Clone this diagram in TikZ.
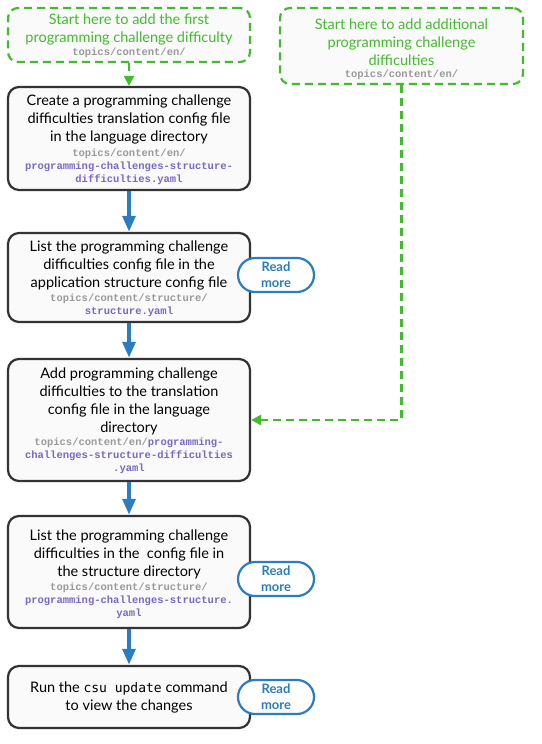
\documentclass[tikz,border=0pt]{standalone}
\usepackage{fontspec}
\setmainfont{Lato}
\newfontfamily\cmono{Liberation Mono}
\newfontfamily\dmono{DejaVu Sans Mono}
\usetikzlibrary{arrows.meta}
\definecolor{boxfill}{HTML}{FAFAFA}
\definecolor{boxline}{HTML}{333333}
\definecolor{greenc}{HTML}{44BB2E}
\definecolor{bluec}{HTML}{2A7DC0}
\definecolor{grayc}{HTML}{9A9A9A}
\definecolor{purplec}{HTML}{7B68C4}
\newcommand{\gp}[1]{\textcolor{grayc}{#1}}
\newcommand{\pp}[1]{\textcolor{purplec}{#1}}
\begin{document}
\begin{tikzpicture}[x=1pt,y=-1pt,
  stepbox/.style={draw=boxline,line width=2.2pt,fill=boxfill,rounded corners=11pt,inner sep=0pt},
  startbox/.style={draw=greenc,line width=2.2pt,fill=boxfill,rounded corners=10pt,inner sep=0pt,dash pattern=on 8pt off 5pt},
  maintext/.style={align=center,inner sep=0pt,font=\fontsize{14.5}{18}\selectfont},
  greentext/.style={maintext,text=greenc},
  monotext/.style={align=center,inner sep=0pt,font=\cmono\bfseries\fontsize{10.5}{12.8}\selectfont},
  readmore/.style={draw=bluec,line width=2.2pt,fill=white,rounded corners=17pt,minimum width=76pt,minimum height=34pt,inner sep=0pt,align=center,text=bluec,font=\bfseries\fontsize{13}{16}\selectfont},
  bluearrow/.style={draw=bluec,line width=4pt,-{Triangle[length=16pt,width=12.5pt]}},
  greenarrow/.style={draw=greenc,line width=2.4pt,dash pattern=on 8pt off 5pt,-{Triangle[length=10pt,width=10pt]}}
]
\useasboundingbox (0,0) rectangle (541,744);

% start boxes
\node[startbox,minimum width=242pt,minimum height=54pt] (s1) at (129,35) {};
\node[greentext] (s1t) at (129,29.5) {Start here to add the first\\programming challenge difficulty};
\node[monotext,text=grayc] (s1m) at (129,53) {topics/content/en/};

\node[startbox,minimum width=243pt,minimum height=76pt] (s2) at (401.5,46) {};
\node[greentext] (s2t) at (401.5,42) {Start here to add additional\\programming challenge\\difficulties};
\node[monotext,text=grayc] (s2m) at (401.5,75) {topics/content/en/};

% step boxes
\node[stepbox,minimum width=242pt,minimum height=103pt] (b1) at (129,138.5) {};
\node[maintext] (b1t) at (129,119.5) {Create a programming challenge\\difficulties translation config file\\in the language directory};
\node[monotext] (b1m) at (129,167) {\gp{topics/content/en/}\\\pp{programming-challenges-structure-}\\\pp{difficulties.yaml}};

\node[stepbox,minimum width=242pt,minimum height=89pt] (b2) at (129,277.5) {};
\node[maintext] (b2t) at (129,265) {List the programming challenge\\difficulties config file in the\\application structure config file};
\node[monotext] (b2m) at (129,305.5) {\gp{topics/content/structure/}\\\pp{structure.yaml}};

\node[stepbox,minimum width=242pt,minimum height=122pt] (b3) at (129,420) {};
\node[maintext] (b3t) at (129,401) {Add programming challenge\\difficulties to the translation\\config file in the language\\directory};
\node[monotext] (b3m) at (129,456) {\gp{topics/content/en/}\pp{programming-}\\\pp{challenges-structure-difficulties}\\\pp{.yaml}};

\node[stepbox,minimum width=242pt,minimum height=112pt] (b4) at (129,572) {};
\node[maintext] (b4t) at (129,554) {List the programming challenge\\difficulties in the\ \ config file in\\the structure directory};
\node[monotext] (b4m) at (129,600.5) {\gp{topics/content/structure/}\\\pp{programming-challenges-structure.}\\\pp{yaml}};

\node[stepbox,minimum width=242pt,minimum height=62pt] (b5) at (129,697) {};
\node[maintext] (b5t) at (129,697) {Run the {\dmono\fontsize{13}{18}\selectfont csu update} command\\to view the changes};

% connectors
\draw[greenarrow] (s1.south) -- (b1.north);
\draw[greenarrow] (s2.south) |- (b3.east);
\draw[bluearrow] (b1.south) -- (b2.north);
\draw[bluearrow] (b2.south) -- (b3.north);
\draw[bluearrow] (b3.south) -- (b4.north);
\draw[bluearrow] (b4.south) -- (b5.north);

% read more
\node[readmore] (r2) at (276,275) {Read\\more};
\node[readmore] (r4) at (276,579) {Read\\more};
\node[readmore] (r5) at (276,697) {Read\\more};
\end{tikzpicture}
\end{document}
